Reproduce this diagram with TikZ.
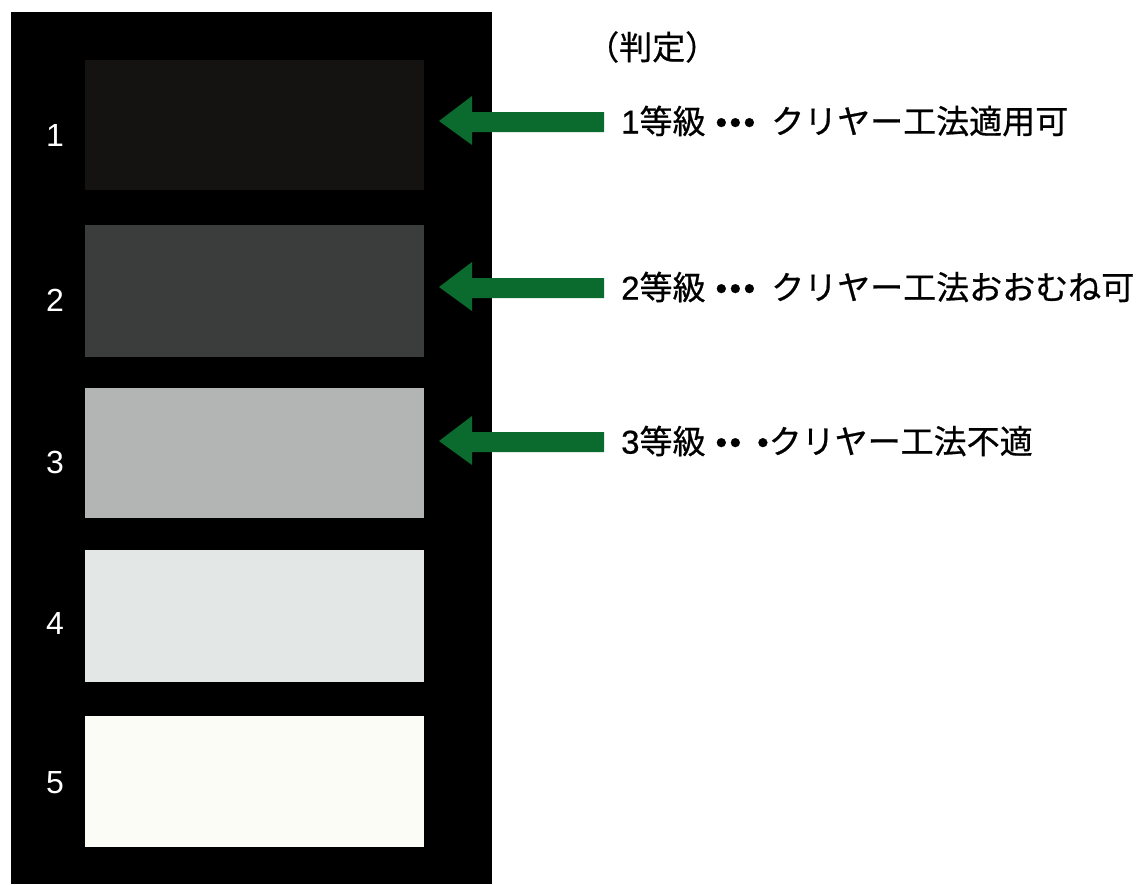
\documentclass[tikz,border=0pt]{standalone}
\usepackage{fontspec}
\setmainfont{Liberation Sans}
\newfontfamily\jp[FakeBold=0.6]{Noto Sans CJK JP}
\newfontfamily\lat[FakeBold=0.6]{Liberation Sans}
\newcommand{\bl}{•\hspace{2.5pt}}
\definecolor{gA}{HTML}{151311}
\definecolor{gB}{HTML}{3B3D3C}
\definecolor{gC}{HTML}{B3B5B4}
\definecolor{gD}{HTML}{E3E7E5}
\definecolor{gE}{HTML}{FCFCF7}
\definecolor{arrowgreen}{HTML}{0B6B2E}
\begin{document}
\begin{tikzpicture}[x=1pt,y=-1pt,
  swatch/.style={minimum width=339pt,minimum height=130pt,inner sep=0pt,draw=none},
  numlabel/.style={text=white,font=\fontsize{32}{36}\selectfont,inner sep=0pt},
  judge/.style={anchor=west,inner sep=0pt,font=\fontsize{33}{38}\selectfont\lat},
  greenarrow/.style={fill=arrowgreen}]
\useasboundingbox (0,0) rectangle (1139,884);
\fill[white] (0,0) rectangle (1139,884);
\fill[black] (11,12) rectangle (492,884);
\node[swatch,fill=gA] (s1) at (254.5,125) {};
\node[swatch,fill=gB,minimum height=132pt] (s2) at (254.5,291) {};
\node[swatch,fill=gC] (s3) at (254.5,453) {};
\node[swatch,fill=gD,minimum height=132pt] (s4) at (254.5,616) {};
\node[swatch,fill=gE,minimum height=131pt] (s5) at (254.5,781.5) {};
\node[numlabel] (n1) at (55,135) {1};
\node[numlabel] (n2) at (55,300) {2};
\node[numlabel] (n3) at (55,462) {3};
\node[numlabel] (n4) at (55,623) {4};
\node[numlabel] (n5) at (55,783) {5};
\node[judge] (j0) at (586,47) {\jp （判定）};
\node[judge] (j1) at (621,121) {1{\jp 等級}\hspace{10pt}\bl\bl•\hspace{16pt}{\jp クリヤー工法適用可}};
\node[judge] (j2) at (621,287) {2{\jp 等級}\hspace{10pt}\bl\bl•\hspace{16pt}{\jp クリヤー工法おおむね可}};
\node[judge] (j3) at (621,441) {3{\jp 等級}\hspace{10pt}\bl•\hspace{16pt}•{\jp クリヤー工法不適}};
\foreach \i/\y in {1/121,2/287,3/441}{
  \coordinate (tip\i) at (439,\y);
  \fill[greenarrow] (tip\i) -- ++(33,-25) -- ++(0,16) -- ++(132,0) -- ++(0,20) -- ++(-132,0) -- ++(0,13) -- cycle;
}
\end{tikzpicture}
\end{document}
